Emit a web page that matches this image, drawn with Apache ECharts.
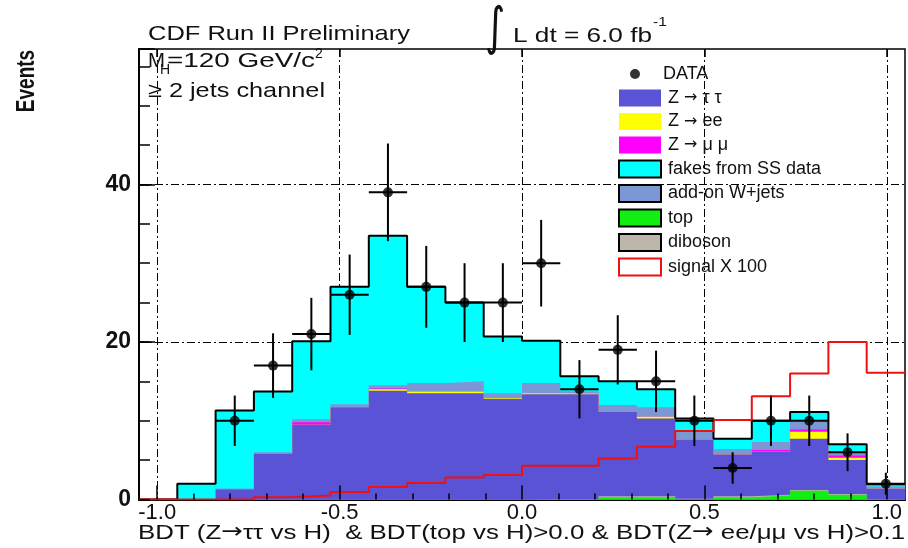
<!DOCTYPE html>
<html><head><meta charset="utf-8">
<script src="https://cdn.jsdelivr.net/npm/echarts@6/dist/echarts.min.js"></script>
<style>html,body{margin:0;padding:0;background:#fff}#c{width:908px;height:548px}</style>
</head><body><div id="c"></div>
<script>
// ---------------- data ----------------
const binEdges = [-1.05,-0.945,-0.84,-0.735,-0.63,-0.525,-0.42,-0.315,-0.21,-0.105,0,0.105,0.21,0.315,0.42,0.525,0.63,0.735,0.84,0.945,1.05];
const dataCounts = [null,null,10,17,21,26,39,27,25,25,30,14,19,15,10,4,10,10,6,2];
const dataErrors = [null,null,3.2,4.1,4.6,5.1,6.2,5.2,5.0,5.0,5.5,3.7,4.4,3.9,3.2,2.0,3.2,3.2,2.4,1.4];
const topQuark  = [0,0,0,0,0,0,0,0,0,0,0,0,0.3,0.3,0,0.3,0.5,1.1,0.6,0];
const diboson   = [0,0,0,0,0,0,0,0,0,0,0.05,0.05,0.1,0.1,0.1,0.1,0.1,0.1,0.1,0.05];
const zTauTau   = [0,0,1.3,5.8,9.5,11.7,13.8,13.5,13.5,12.8,13.3,13.3,10.7,9.9,7.5,5.3,5.5,6.5,4.3,1.3];
const zEE       = [0,0,0,0,0,0,0.2,0.2,0.2,0.1,0.15,0.1,0,0.2,0,0,0,0.9,0.3,0];
const zMuMu     = [0,0,0,0,0.3,0,0.1,0,0,0,0,0,0,0,0,0,0.2,0.3,0.3,0];
const wJets     = [0,0,0.1,0.2,0.4,0.4,0.4,1.1,1.3,0.6,1.3,0.3,0.9,1.2,1.1,0.7,1.0,1.0,0.5,0.3];
const fakesSS   = [0,2.0,9.9,7.7,9.9,14.9,19.0,12.2,10.0,7.2,5.35,1.9,3.0,2.3,1.6,1.3,2.7,1.2,0.9,0.3];
const signalX100= [0,0,0,0.3,0.5,0.95,1.6,2.1,2.8,3.1,4.3,4.3,5.2,6.7,8.7,10.1,13.1,16.0,20.0,16.1];
const xTickLabels = ['-1.0','-0.5','0.0','0.5','1.0'];
const yTickLabels = ['0','20','40'];

// ---------------- layout / style ----------------
const X_MIN = -1.05, X_MAX = 1.05, Y_MAX = 57.2;
const GRID_L = 139, GRID_R = 3, GRID_T = 49, GRID_B = 48.5;
const plotW = 908 - GRID_L - GRID_R;
const inner = (-1 - X_MIN) / (X_MAX - X_MIN) * plotW;
const FONT = 'Liberation Sans';
const TXT = '#111';
const COL = {
  ztt:'#5a53d5', zee:'#ffff00', zmm:'#ff00ff', fakes:'#00ffff',
  wjets:'#7b98d4', top:'#11ee11', dib:'#bdb6ab', sig:'#f01010'
};
const NAMES = {
  ztt:'Z \u2192 \u03c4 \u03c4', zee:'Z \u2192 ee', zmm:'Z \u2192 \u03bc \u03bc',
  fakes:'fakes from SS data', wjets:'add-on W+jets', top:'top', dib:'diboson', sig:'signal X 100'
};

function stepPoints(arr) {
  const pts = arr.map((v, i) => [binEdges[i], v]);
  pts.push([binEdges[binEdges.length - 1], arr[arr.length - 1]]);
  return pts;
}
// stack order, bottom -> top
const stackOrder = [['top', topQuark], ['dib', diboson], ['ztt', zTauTau], ['zee', zEE], ['zmm', zMuMu], ['wjets', wJets], ['fakes', fakesSS]];
const cumulative = [];
stackOrder.forEach(([key, arr], k) => {
  const prev = k ? cumulative[k - 1] : arr.map(() => 0);
  cumulative.push(arr.map((v, i) => prev[i] + v));
});
const total = cumulative[cumulative.length - 1];
// each layer drawn as a filled step area from 0 up to its cumulative level, highest first
const layerSeries = stackOrder.map(([key], k) => ({
  type:'line', name:NAMES[key], xAxisIndex:0, yAxisIndex:0,
  step:'end', showSymbol:false, symbol:'none', color:COL[key], z:2, silent:true,
  lineStyle:{width:0, color:COL[key]}, areaStyle:{color:COL[key], opacity:1, origin:'start'},
  data: stepPoints(cumulative[k])
})).reverse();

const pointData = [], errData = [];
dataCounts.forEach((v, i) => {
  if (v == null) return;
  const xc = (binEdges[i] + binEdges[i + 1]) / 2;
  pointData.push([xc, v]);
  errData.push([binEdges[i], binEdges[i + 1], xc, v, dataErrors[i]]);
});

// text helpers
const mctx = document.createElement('canvas').getContext('2d');
function measure(str, size, weight, fam) {
  mctx.font = (weight || 'normal') + ' ' + size + 'px "' + (fam || FONT) + '"';
  return mctx.measureText(str).width;
}
function fitText(str, left, cy, size, targetW, weight) {
  const w = measure(str, size, weight);
  return {type:'text', x:left, y:cy, scaleX: targetW / w, z:20,
    style:{text:str, fontSize:size, fontFamily:FONT, fontWeight:weight || 'normal', fill:TXT,
      align:'left', verticalAlign:'middle', textAlign:'left', textVerticalAlign:'middle'}};
}
function plainText(str, x, cy, size, extra) {
  return Object.assign({type:'text', x:x, y:cy, z:20,
    style:{text:str, fontSize:size, fontFamily:FONT, fill:TXT, align:'left', verticalAlign:'middle',
      textAlign:'left', textVerticalAlign:'middle'}}, extra || {});
}
// x-axis title with arrows in DejaVu Sans (rich text), stretched to the reference width
const AR = '\u2192';
const titleParts = ['BDT (Z', AR, '\u03c4\u03c4 vs H)  & BDT(top vs H)>0.0 & BDT(Z', AR, ' ee/\u03bc\u03bc vs H)>0.1'];
const TITLE_SIZE = 21;
let titleW = 0;
titleParts.forEach(p => { titleW += measure(p, TITLE_SIZE, 'normal', p === AR ? 'DejaVu Sans' : FONT); });
const titleText = titleParts.map(p => p === AR ? '{ar|' + p + '}' : '{t|' + p + '}').join('');

const dashDot = [8, 3, 2, 3];
const legendText = {fontFamily:FONT, fontSize:18, color:TXT, padding:[0, 0, 0, 2],
  rich:{t:{fontFamily:FONT, fontSize:18, color:TXT}, ar:{fontFamily:'DejaVu Sans', fontSize:16, color:TXT}}};
const legendFmt = (name) => name.split(AR).map(s => '{t|' + s + '}').join('{ar|' + AR + '}');

const option = {
  animation:false,
  backgroundColor:'#fff',
  grid:[
    {left:GRID_L, right:GRID_R, top:GRID_T, bottom:GRID_B, show:true, borderColor:'#000', borderWidth:1.5,
      backgroundColor:'transparent', containLabel:false, outerBoundsMode:'none'},
    {left:GRID_L + inner, right:GRID_R + inner, top:GRID_T, bottom:GRID_B, containLabel:false, outerBoundsMode:'none'}
  ],
  xAxis:[
    {gridIndex:0, type:'value', min:X_MIN, max:X_MAX, position:'bottom',
      axisLine:{show:true, onZero:false, lineStyle:{color:'#000', width:2}},
      axisTick:{show:false}, axisLabel:{show:false}, splitLine:{show:false}, minorTick:{show:false}},
    {gridIndex:1, type:'value', min:-1, max:1, interval:0.5, position:'bottom', z:0,
      axisLine:{show:false, onZero:false}, axisTick:{show:false}, axisLabel:{show:false},
      splitLine:{show:true, lineStyle:{color:'#000', width:1, type:dashDot}}},
    {gridIndex:1, type:'value', min:-1, max:1, interval:0.5, position:'bottom', z:10,
      axisLine:{show:false, onZero:false},
      axisTick:{show:true, inside:true, length:14, lineStyle:{color:'#000', width:1.5}},
      minorTick:{show:true, splitNumber:5, length:6, lineStyle:{color:'#000', width:1.5}},
      axisLabel:{show:true, margin:2, fontFamily:FONT, fontSize:22, color:TXT,
        formatter:(v) => xTickLabels[Math.round((v + 1) / 0.5)] || ''},
      splitLine:{show:false}},
    {gridIndex:1, type:'value', min:-1, max:1, interval:0.5, position:'top', z:10,
      axisLine:{show:false, onZero:false},
      axisTick:{show:true, inside:true, length:8, lineStyle:{color:'#000', width:1.5}},
      axisLabel:{show:false}, splitLine:{show:false}}
  ],
  yAxis:[
    {gridIndex:0, type:'value', min:0, max:Y_MAX, interval:20, position:'left',
      axisLine:{show:true, onZero:false, lineStyle:{color:'#000', width:2}},
      axisTick:{show:true, inside:true, length:16, lineStyle:{color:'#000', width:1.5}},
      axisLabel:{show:true, margin:8, fontFamily:FONT, fontWeight:'bold', fontSize:23, color:TXT,
        formatter:(v) => (Math.abs(v / 20 - Math.round(v / 20)) < 1e-6 ? (yTickLabels[Math.round(v / 20)] || '') : '')},
      splitLine:{show:true, showMaxLine:false, lineStyle:{color:'#000', width:1, type:dashDot}}},
    {gridIndex:1, type:'value', min:0, max:Y_MAX, show:false, axisLine:{onZero:false}},
    {gridIndex:0, type:'value', min:0, max:Y_MAX, interval:5, position:'left', z:10,
      axisLine:{show:false, onZero:false},
      axisTick:{show:true, inside:true, length:11, lineStyle:{color:'#000', width:1.5}},
      axisLabel:{show:false}, splitLine:{show:false}}
  ],
  legend:[
    {orient:'vertical', left:625, top:60, itemWidth:42, itemHeight:10, icon:'circle', selectedMode:false,
      data:[{name:'DATA', itemStyle:{color:'#000', borderWidth:0}}], textStyle:legendText},
    {orient:'vertical', left:613, top:84, itemWidth:42, itemHeight:17, itemGap:5.5, icon:'rect', selectedMode:false,
      textStyle:legendText, formatter:legendFmt,
      data:[
        {name:NAMES.ztt, itemStyle:{color:COL.ztt, borderWidth:0, opacity:1}},
        {name:NAMES.zee, itemStyle:{color:COL.zee, borderWidth:0, opacity:1}},
        {name:NAMES.zmm, itemStyle:{color:COL.zmm, borderWidth:0, opacity:1}},
        {name:NAMES.fakes, itemStyle:{color:COL.fakes, borderColor:'#000', borderWidth:2, opacity:1}},
        {name:NAMES.wjets, itemStyle:{color:COL.wjets, borderColor:'#000', borderWidth:2, opacity:1}},
        {name:NAMES.top, itemStyle:{color:COL.top, borderColor:'#000', borderWidth:2, opacity:1}},
        {name:NAMES.dib, itemStyle:{color:COL.dib, borderColor:'#000', borderWidth:2, opacity:1}},
        {name:NAMES.sig, itemStyle:{color:'#fff', borderColor:COL.sig, borderWidth:2, opacity:1}}
      ]}
  ],
  graphic:[
    fitText('CDF Run II Preliminary', 148, 34.5, 21, 262),
    plainText('\u222b', 495, 30, 52, {scaleX:0.75, style:{text:'\u222b', fontSize:52, fontFamily:'DejaVu Sans', fill:TXT, align:'center', verticalAlign:'middle', textAlign:'center', textVerticalAlign:'middle'}}),
    fitText('L dt = 6.0 fb', 513, 36, 21, 139),
    plainText('-1', 653, 22.5, 13, {scaleX:1.2}),
    fitText('M', 148, 61, 21, 17),
    plainText('H', 160, 70, 14),
    fitText('=120 GeV/c', 167, 61, 21, 148),
    plainText('2', 315, 54, 14),
    fitText('\u2265 2 jets channel', 148, 91, 21, 177),
    {type:'text', x:27, y:81, rotation:Math.PI / 2, scaleY:1.35, z:20,
      style:{text:'Events', fontSize:19, fontWeight:'bold', fontFamily:FONT, fill:TXT,
        align:'center', verticalAlign:'middle', textAlign:'center', textVerticalAlign:'middle'}},
    {type:'text', x:138, y:533, scaleX: 767 / titleW, z:20,
      style:{text:titleText, fontSize:TITLE_SIZE, fontFamily:FONT, fill:TXT, align:'left', verticalAlign:'middle',
        textAlign:'left', textVerticalAlign:'middle',
        rich:{t:{fontSize:TITLE_SIZE, fontFamily:FONT, fill:TXT, color:TXT}, ar:{fontSize:TITLE_SIZE, fontFamily:'DejaVu Sans', fill:TXT, color:TXT}}}}
  ],
  series: layerSeries.concat([
    {type:'line', name:'total background', xAxisIndex:0, yAxisIndex:0, step:'end', showSymbol:false, symbol:'none',
      z:3, silent:true, lineStyle:{color:'#000', width:2}, data:stepPoints(total)},
    {type:'line', name:NAMES.sig, xAxisIndex:0, yAxisIndex:0, step:'end', showSymbol:false, symbol:'none',
      color:COL.sig, z:4, silent:true, lineStyle:{color:COL.sig, width:2}, data:stepPoints(signalX100)},
    {type:'custom', name:'DATA errors', xAxisIndex:0, yAxisIndex:0, z:5, silent:true,
      encode:{x:[0, 1, 2], y:[3]}, data:errData,
      renderItem:(params, api) => {
        const x0 = api.value(0), x1 = api.value(1), xc = api.value(2), v = api.value(3), e = api.value(4);
        const a = api.coord([x0, v]), b = api.coord([x1, v]);
        const t = api.coord([xc, v + e]), d = api.coord([xc, v - e]);
        const st = {stroke:'#000', lineWidth:2};
        return {type:'group', children:[
          {type:'line', shape:{x1:a[0], y1:a[1], x2:b[0], y2:b[1]}, style:st},
          {type:'line', shape:{x1:t[0], y1:t[1], x2:d[0], y2:d[1]}, style:st}
        ]};
      }},
    {type:'scatter', name:'DATA', xAxisIndex:0, yAxisIndex:0, z:6, silent:true, symbol:'circle', symbolSize:10,
      color:'#000', itemStyle:{color:'#000'}, data:pointData}
  ])
};
const chart = echarts.init(document.getElementById('c'), null, {renderer:'canvas'});
chart.setOption(option);
</script></body></html>
